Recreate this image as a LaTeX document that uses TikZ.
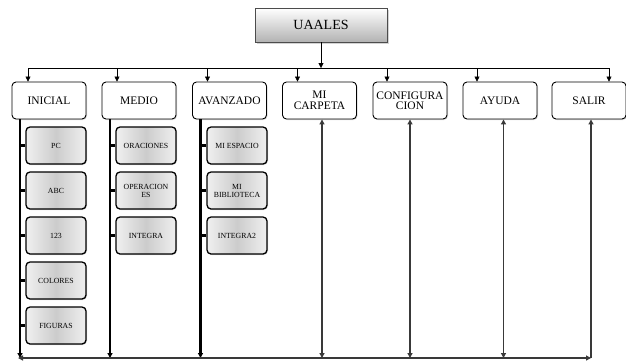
\documentclass[tikz,border=0pt]{standalone}
\usepackage{fontspec}
\setmainfont{Liberation Serif}
\usetikzlibrary{arrows.meta, calc, positioning, shadows}
\tikzset{
	x=1pt, y=-1pt, semithick,
	arr/.style={-{Triangle[length=5pt,width=5pt]}},
	both/.style={{Triangle[length=5pt,width=5pt]}-{Triangle[length=5pt,width=5pt]}},
	root/.style={rectangle, draw=gray!60!black, top color=white, bottom color=gray!60, minimum width=132pt, minimum height=34pt, font=\fontsize{14}{14}\selectfont, drop shadow={opacity=0.35, shadow xshift=1.5pt, shadow yshift=-1.5pt}},
	menu/.style={rectangle, rounded corners=4pt, draw, fill=white, line width=0.9pt, minimum width=74pt, minimum height=37pt, align=center, inner sep=1pt, font=\fontsize{11.5}{10.5}\selectfont, drop shadow={opacity=0.3, shadow xshift=1pt, shadow yshift=-1pt}},
	item/.style={rectangle, rounded corners=4pt, draw, line width=1.3pt, left color=gray!12, right color=gray!12, middle color=gray!40, minimum width=60pt, minimum height=37pt, align=center, inner sep=1pt, font=\fontsize{7.8}{8}\selectfont, drop shadow={opacity=0.3, shadow xshift=1pt, shadow yshift=-1pt}},
	trunk/.style={line width=2.4pt},
	rail/.style={draw=gray!45!black, line width=1.2pt}
}
\begin{document}
\begin{tikzpicture}
	\useasboundingbox (0,0) rectangle (626,360);
	\node[root] (uaales) at (321,25) {UAALES};
	
	% menus
	\node[menu] (inicial) at (49,100.5) {INICIAL};
	\node[menu] (medio) at (139,100.5) {MEDIO};
	\node[menu] (avanzado) at (229.5,100.5) {AVANZADO};
	\node[menu] (carpeta) at (319.5,100.5) {MI\\CARPETA};
	\node[menu] (config) at (410,100.5) {CONFIGURA\\CION};
	\node[menu] (ayuda) at (500,100.5) {AYUDA};
	\node[menu] (salir) at (589,100.5) {SALIR};
	
	% submenus
	\node[item] (pc) at (56,145.5) {PC};
	\node[item] (abc) at (56,190.5) {ABC};
	\node[item] (num) at (56,235.5) {123};
	\node[item] (colores) at (56,280.5) {COLORES};
	\node[item] (figuras) at (56,325.5) {FIGURAS};
	\node[item] (oraciones) at (146,145.5) {ORACIONES};
	\node[item] (operaciones) at (146,190.5) {OPERACION\\ES};
	\node[item] (integra) at (146,235.5) {INTEGRA};
	\node[item] (espacio) at (237,145.5) {MI ESPACIO};
	\node[item] (biblioteca) at (237,190.5) {MI\\BIBLIOTECA};
	\node[item] (integrados) at (237,235.5) {INTEGRA2};
	
	\coordinate (busL) at (28,68);
	\coordinate (busR) at (609,68);
	\coordinate (baseL) at (18,358);
	\coordinate (baseR) at (591,358);
	\coordinate (tI) at ([xshift=-29pt]inicial.south);
	\coordinate (tM) at ([xshift=-29pt]medio.south);
	\coordinate (tA) at ([xshift=-29pt]avanzado.south);
	
	% top bus
	\draw[arr] (uaales) -- (uaales |- busL);
	\draw (busL) -- (busR);
	\draw[arr] (busL) -- (busL |- inicial.north);
	\draw[arr] ([xshift=-22pt]medio.north |- busL) -- ([xshift=-22pt]medio.north);
	\draw[arr] ([xshift=-22pt]avanzado.north |- busL) -- ([xshift=-22pt]avanzado.north);
	\draw[arr] ([xshift=-22pt]carpeta.north |- busL) -- ([xshift=-22pt]carpeta.north);
	\draw[arr] ([xshift=-23pt]config.north |- busL) -- ([xshift=-23pt]config.north);
	\draw[arr] ([xshift=-23pt]ayuda.north |- busL) -- ([xshift=-23pt]ayuda.north);
	\draw[arr] (busR) -- (busR |- salir.north);
	
	% trunks with submenus
	\draw[trunk, arr] (tI) -- (tI |- baseL);
	\draw[trunk, arr] (tM) -- (tM |- baseL);
	\draw[trunk, arr] (tA) -- (tA |- baseL);
	\foreach \n in {pc, abc, num, colores, figuras}
		\draw[trunk] (\n.west) -- (\n.west -| tI);
	\foreach \n in {oraciones, operaciones, integra}
		\draw[trunk] (\n.west) -- (\n.west -| tM);
	\foreach \n in {espacio, biblioteca, integrados}
		\draw[trunk] (\n.west) -- (\n.west -| tA);
	
	% bottom return
	\draw[rail, both] (baseL) -- (baseR);
	\draw[rail, line width=2pt, arr] (baseR) -- (baseR |- salir.south);
	\draw[rail, both] ([xshift=2.5pt]carpeta.south) -- ([xshift=2.5pt]carpeta.south |- baseL);
	\draw[rail, both] (config.south) -- (config.south |- baseL);
	\draw[rail, both] ([xshift=3.5pt]ayuda.south) -- ([xshift=3.5pt]ayuda.south |- baseL);
\end{tikzpicture}
\end{document}
